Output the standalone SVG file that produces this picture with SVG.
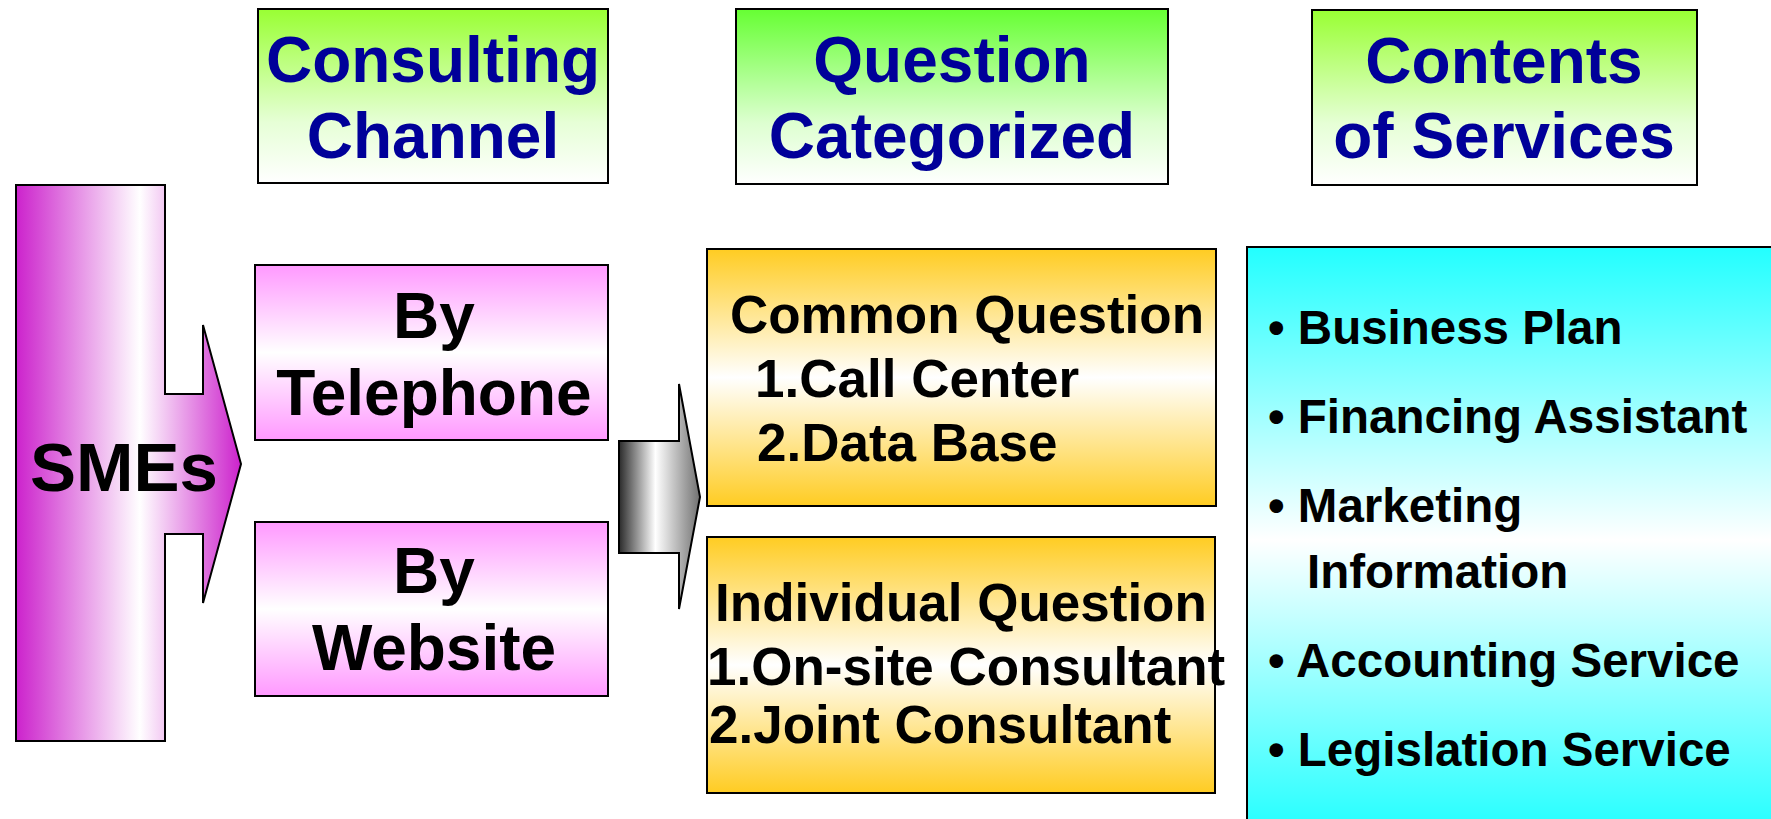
<svg xmlns="http://www.w3.org/2000/svg" width="1771" height="819" viewBox="0 0 1771 819">
<defs>
<linearGradient id="gGreenA" x1="0" y1="0" x2="0" y2="1"><stop offset="0" stop-color="#99FF33"/><stop offset="0.65" stop-color="#E6FFD6"/><stop offset="1" stop-color="#FFFFFF"/></linearGradient>
<linearGradient id="gGreenB" x1="0" y1="0" x2="0" y2="1"><stop offset="0" stop-color="#66FF33"/><stop offset="0.65" stop-color="#DDFFD0"/><stop offset="1" stop-color="#FFFFFF"/></linearGradient>
<linearGradient id="gPink" x1="0" y1="0" x2="0" y2="1"><stop offset="0" stop-color="#FF99FF"/><stop offset="0.5" stop-color="#FFFFFF"/><stop offset="1" stop-color="#FF99FF"/></linearGradient>
<linearGradient id="gOrange" x1="0" y1="0" x2="0" y2="1"><stop offset="0" stop-color="#FFCC22"/><stop offset="0.5" stop-color="#FFFFFF"/><stop offset="1" stop-color="#FFCC22"/></linearGradient>
<linearGradient id="gCyan" x1="0" y1="0" x2="0" y2="1"><stop offset="0" stop-color="#22FFFF"/><stop offset="0.5" stop-color="#FFFFFF"/><stop offset="1" stop-color="#22FFFF"/></linearGradient>
<linearGradient id="gMag" x1="0" y1="0" x2="1" y2="0"><stop offset="0" stop-color="#CC22CC"/><stop offset="0.55" stop-color="#FFFFFF"/><stop offset="1" stop-color="#CC22CC"/></linearGradient>
<linearGradient id="gGray" x1="0" y1="0" x2="1" y2="0"><stop offset="0" stop-color="#2A2A2A"/><stop offset="0.45" stop-color="#FFFFFF"/><stop offset="1" stop-color="#707070"/></linearGradient>
</defs>
<style>
.box{stroke:#000;stroke-width:2}
.hdr{font-family:"Liberation Sans",Arial,sans-serif;font-weight:bold;font-size:64px;fill:#000099;text-anchor:middle}
.lbl{font-family:"Liberation Sans",Arial,sans-serif;font-weight:bold;fill:#000}
.mid{text-anchor:middle}
.f62{font-size:64px}
.f52{font-size:53px}
.f46{font-size:47.5px}
</style>
<rect width="1771" height="819" fill="#FFFFFF"/>

<g id="hdr-consulting">
<rect class="box" x="258" y="9" width="350" height="174" fill="url(#gGreenA)"/>
<text class="hdr" x="433" y="82">Consulting</text>
<text class="hdr" x="433" y="158">Channel</text>
</g>
<g id="hdr-question">
<rect class="box" x="736" y="9" width="432" height="175" fill="url(#gGreenB)"/>
<text class="hdr" x="952" y="82">Question</text>
<text class="hdr" x="952" y="158">Categorized</text>
</g>
<g id="hdr-contents">
<rect class="box" x="1312" y="10" width="385" height="175" fill="url(#gGreenA)"/>
<text class="hdr" x="1504" y="83">Contents</text>
<text class="hdr" x="1504" y="158">of Services</text>
</g>

<g id="smes">
<path class="box" d="M16,185 H165 V394 H203 V325 L241,464 L203,603 V534 H165 V741 H16 Z" fill="url(#gMag)"/>
<text class="lbl mid" x="124" y="491" font-size="69">SMEs</text>
</g>

<g id="telephone">
<rect class="box" x="255" y="265" width="353" height="175" fill="url(#gPink)"/>
<text class="lbl mid f62" x="434" y="338">By</text>
<text class="lbl mid f62" x="434" y="415">Telephone</text>
</g>
<g id="website">
<rect class="box" x="255" y="522" width="353" height="174" fill="url(#gPink)"/>
<text class="lbl mid f62" x="434" y="593">By</text>
<text class="lbl mid f62" x="434" y="670">Website</text>
</g>

<g id="connectors">
<path class="box" d="M619,441 H679 V384 L700,497 L679,609 V553 H619 Z" fill="url(#gGray)" stroke-width="1.5"/>
</g>

<g id="common">
<rect class="box" x="707" y="249" width="509" height="257" fill="url(#gOrange)"/>
<text class="lbl mid f52" x="967" y="333">Common Question</text>
<text class="lbl f52" x="755" y="397">1.Call Center</text>
<text class="lbl f52" x="757" y="461">2.Data Base</text>
</g>
<g id="individual">
<rect class="box" x="707" y="537" width="508" height="256" fill="url(#gOrange)"/>
<text class="lbl mid f52" x="961" y="621">Individual Question</text>
<text class="lbl f52" x="707" y="685">1.On-site Consultant</text>
<text class="lbl f52" x="709" y="743">2.Joint Consultant</text>
</g>

<g id="services">
<rect class="box" x="1247" y="247" width="540" height="586" fill="url(#gCyan)"/>
<text class="lbl f46" x="1268" y="344">• Business Plan</text>
<text class="lbl f46" x="1268" y="433">• Financing Assistant</text>
<text class="lbl f46" x="1268" y="522">• Marketing</text>
<text class="lbl f46" x="1307" y="588">Information</text>
<text class="lbl f46" x="1268" y="677">• Accounting Service</text>
<text class="lbl f46" x="1268" y="766">• Legislation Service</text>
</g>
</svg>
